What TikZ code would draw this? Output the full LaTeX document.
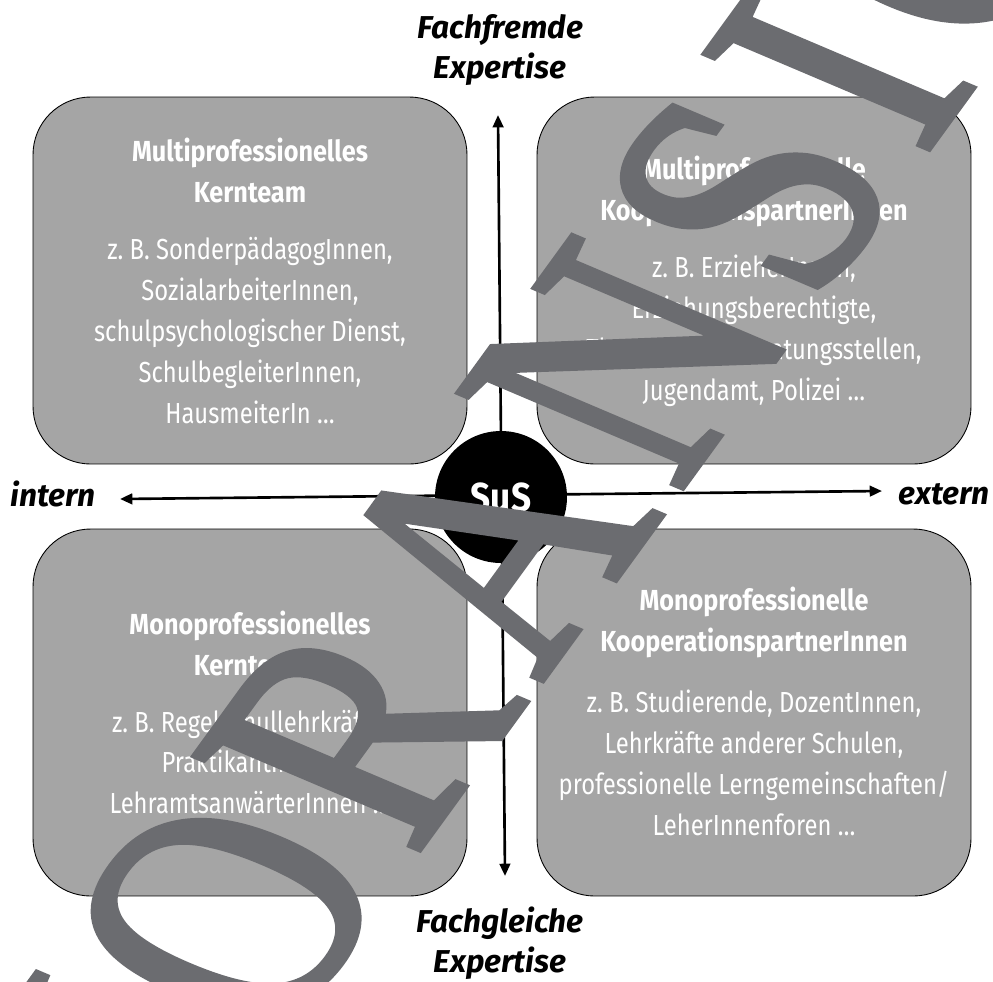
\documentclass[tikz,border=0pt]{standalone}
\usepackage{fontspec}
\setmainfont{Fira Sans}
\newfontfamily\schmal{Fira Sans}[FakeStretch=0.82]
\newfontfamily\titelschrift{Fira Sans}[FakeStretch=0.87]
\newfontfamily\serifwz{Liberation Serif}[LetterSpace=8, FakeBold=1.8]
\usepackage{tikz}
\usetikzlibrary{arrows.meta, positioning}

\definecolor{feldgrau}{HTML}{A5A5A5}
\definecolor{wzgrau}{HTML}{6B6C70}

\tikzset{
  feld/.style={draw=black, line width=0.5pt, fill=feldgrau, rounded corners=1.15cm,
    minimum width=8.68cm, minimum height=7.34cm, inner sep=0pt},
  titel/.style={text=white, align=center, inner sep=0pt,
    font=\titelschrift\bfseries\fontsize{16.5}{23.3}\selectfont},
  liste/.style={text=white, align=center, inner sep=0pt,
    font=\schmal\fontsize{16.5}{23.3}\selectfont},
  achse/.style={line width=1.5pt, {Triangle[length=7pt,width=6pt]}-{Triangle[length=7pt,width=6pt]}},
  pol/.style={align=center, inner sep=0pt, font=\bfseries\itshape\fontsize{18}{23}\selectfont}
}

\begin{document}
\begin{tikzpicture}[x=0.02cm, y=-0.02cm]
  \useasboundingbox (0,0) rectangle (993,981);

  % Spalten- und Zeilenmitten der Felder
  \def\xL{250}
  \def\xR{754}
  \def\yO{280.5}
  \def\yU{712.5}

  % --- Felder ---
  \node[feld] (kern-multi) at (\xL,\yO) {};
  \node[feld] (partner-multi) at (\xR,\yO) {};
  \node[feld] (kern-mono) at (\xL,\yU) {};
  \node[feld] (partner-mono) at (\xR,\yU) {};

  % --- Texte oben links ---
  \node[titel] (kern-multi-titel) at (\xL,170.5) {Multiprofessionelles\\Kernteam};
  \node[liste] (kern-multi-liste) at (\xL,330.5) {z.\ B. SonderpädagogInnen,\\SozialarbeiterInnen,\\schulpsychologischer Dienst,\\SchulbegleiterInnen,\\HausmeiterIn \dots};

  % --- Texte oben rechts ---
  \node[titel] (partner-multi-titel) at (\xR,191) {Multiprofessionelle\\KooperationspartnerInnen};
  \node[liste] (partner-multi-liste) at (\xR,331) {z.\ B. ErzieherInnen,\\Erziehungsberechtigte,\\Therapeuten, Beratungsstellen,\\Jugendamt, Polizei \dots};

  % --- Texte unten links ---
  \node[titel] (kern-mono-titel) at (\xL,643.5) {Monoprofessionelles\\Kernteam};
  \node[liste] (kern-mono-liste) at (\xL,762) {z.\ B. Regelschullehrkräfte,\\PraktikantInnen,\\LehramtsanwärterInnen \dots};

  % --- Texte unten rechts ---
  \node[titel] (partner-mono-titel) at (\xR,622.5) {Monoprofessionelle\\KooperationspartnerInnen};
  \node[liste] (partner-mono-liste) at (\xR,763) {z.\ B. Studierende, DozentInnen,\\Lehrkräfte anderer Schulen,\\professionelle Lerngemeinschaften/\\LeherInnenforen \dots};

  % --- Achsen ---
  \coordinate (intern-ende) at (120,499);
  \coordinate (extern-ende) at (882,491);
  \coordinate (fremd-ende) at (498,115);
  \coordinate (gleich-ende) at (505,876);
  \draw[achse] (intern-ende) -- (extern-ende);
  \draw[achse] (fremd-ende) -- (gleich-ende);

  \node[circle, fill=black, minimum size=2.64cm, inner sep=0pt, text=white,
    font=\titelschrift\bfseries\fontsize{23}{23}\selectfont] (sus) at (501,497) {SuS};

  % --- Pole ---
  \node[pol] (fremd) at (500,50) {Fachfremde\\Expertise};
  \node[pol] (gleich) at (500,943) {Fachgleiche\\Expertise};
  \node[pol] (intern) at (53,494) {intern};
  \node[pol] (extern) at (944,494) {extern};

  % --- Wasserzeichen ---
  \begin{scope}
    \clip (0,0) rectangle (993,981);
    \begin{scope}[shift={(640,347)}]
      \node[text=wzgrau, inner sep=0pt, font=\serifwz\fontsize{165}{165}\selectfont,
        cm={0.588,0.809,-1.178,0.500,(0,0)}] (vorschau) at (0,0) {VORANSICHT};
    \end{scope}
  \end{scope}
\end{tikzpicture}
\end{document}
